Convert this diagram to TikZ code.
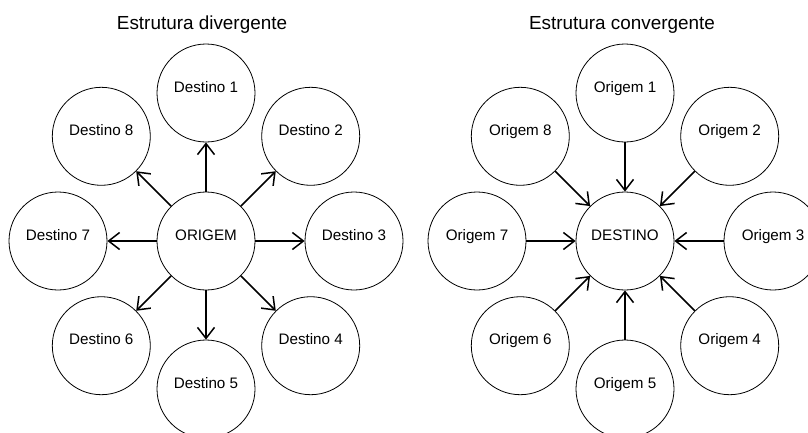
\documentclass[tikz,border=0pt]{standalone}
\usepackage{fontspec}
\setmainfont{Liberation Sans}
\usetikzlibrary{arrows.meta}

\tikzset{
  bub/.style={circle,draw,line width=0.8pt,minimum size=98pt,inner sep=0pt,
    text height=11pt,text depth=13pt,font=\fontsize{15.2}{18}\selectfont},
  titulo/.style={anchor=base,font=\fontsize{18.9}{22}\selectfont},
  seta/.style={line width=1.5pt,-{Straight Barb[length=11pt,width=17pt,line width=1.5pt]}}
}

\begin{document}
\begin{tikzpicture}[x=1pt,y=-1pt]
    \useasboundingbox (0,0) rectangle (808,432);
    % estrutura divergente
    \node[titulo] (tdiv) at (202,29) {Estrutura divergente};
    \node[bub] (origem) at (206,241) {ORIGEM};
    \node[bub] (d1) at (206,93) {Destino 1};
    \node[bub] (d2) at (310.7,136.3) {Destino 2};
    \node[bub] (d3) at (354,241) {Destino 3};
    \node[bub] (d4) at (310.7,345.7) {Destino 4};
    \node[bub] (d5) at (206,389) {Destino 5};
    \node[bub] (d6) at (101.3,345.7) {Destino 6};
    \node[bub] (d7) at (58,241) {Destino 7};
    \node[bub] (d8) at (101.3,136.3) {Destino 8};
    \draw[seta] (origem) -- (d1);
    \draw[seta] (origem) -- (d2);
    \draw[seta] (origem) -- (d3);
    \draw[seta] (origem) -- (d4);
    \draw[seta] (origem) -- (d5);
    \draw[seta] (origem) -- (d6);
    \draw[seta] (origem) -- (d7);
    \draw[seta] (origem) -- (d8);
    % estrutura convergente
    \node[titulo] (tconv) at (622,29) {Estrutura convergente};
    \node[bub] (destino) at (625,241) {DESTINO};
    \node[bub] (o1) at (625,93) {Origem 1};
    \node[bub] (o2) at (729.7,136.3) {Origem 2};
    \node[bub] (o3) at (773,241) {Origem 3};
    \node[bub] (o4) at (729.7,345.7) {Origem 4};
    \node[bub] (o5) at (625,389) {Origem 5};
    \node[bub] (o6) at (520.3,345.7) {Origem 6};
    \node[bub] (o7) at (477,241) {Origem 7};
    \node[bub] (o8) at (520.3,136.3) {Origem 8};
    \draw[seta] (o1) -- (destino);
    \draw[seta] (o2) -- (destino);
    \draw[seta] (o3) -- (destino);
    \draw[seta] (o4) -- (destino);
    \draw[seta] (o5) -- (destino);
    \draw[seta] (o6) -- (destino);
    \draw[seta] (o7) -- (destino);
    \draw[seta] (o8) -- (destino);
\end{tikzpicture}
\end{document}
